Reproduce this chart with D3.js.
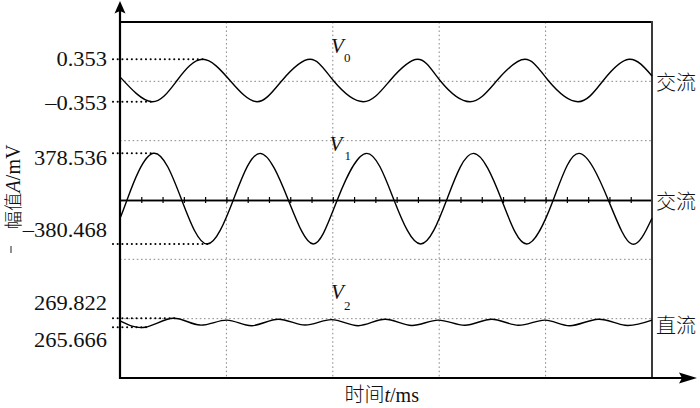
<!DOCTYPE html>
<html><head><meta charset="utf-8">
<script src="https://cdn.jsdelivr.net/npm/d3@7/dist/d3.min.js"></script>
<style>
body{margin:0;background:#fff}
svg{display:block}
.num{font-family:"Liberation Serif","Times New Roman",serif;font-size:21px;fill:#111}
.cjk{font-family:"Noto Sans CJK SC",sans-serif;font-size:20px;fill:#111}
</style></head><body>
<svg id="c" width="700" height="408"></svg>
<script>
// ---- data (time in ms, amplitude in mV) ----
const v0Time  = [0,2.98,5.36,7.77,10.34,12.88,15.23,17.86,20.05,22.87,25.38,27.98,30.08,32.89,35.43,38.06,40.25,43.05,45.42,47.84,50];
const v0Value = [0.06,-0.353,0,0.353,0,-0.353,0,0.353,0,-0.353,0,0.353,0,-0.353,0,0.353,0,-0.353,0,0.353,0.075];

const v1Time  = [0,0.66,3.13,5.80,8.20,10.65,13.16,15.82,18.17,20.42,23.19,25.75,28.26,30.70,33.21,35.87,38.22,40.72,43.14,45.89,48.09,50];
const v1Value = [-165,-12,378.536,-12,-380.468,-12,378,-12,-380,-12,378,-12,-380,-12,378,-12,-380,-12,378,-12,-380,-165];

const v2Time  = [0,2.35,5.01,7.52,10.03,12.38,14.88,17.39,19.90,22.40,24.91,27.41,29.92,32.43,34.94,37.44,39.94,42.29,44.95,47.46,50];
const v2Value = [268.6,265.666,269.822,266.7,269.0,266.4,269.4,266.7,269.2,266.4,269.4,266.5,269.0,266.6,269.4,266.6,269.0,266.4,269.4,266.6,269.0];

const markLabelsV0 = ["0.353","–0.353"];
const markLabelsV1 = ["378.536","–380.468"];
const markLabelsV2 = ["269.822","265.666"];
const seriesNames = ["0","1","2"];
const typeLabels = ["交流","交流","直流"];
const yTitleCJK = "幅值", yTitleVar = "A", yTitleUnit = "/mV";
const xTitleCJK = "时间", xTitleVar = "t", xTitleUnit = "/ms";

// ---- layout ----
const svg = d3.select("#c");
const L = 120, R = 652, T = 22, B = 378;
const x = d3.scaleLinear().domain([0, 50]).range([L, R]);
const row = d3.scaleLinear().domain([0, 6]).range([B, T]);
const yV0 = d3.scaleLinear().domain([-0.353, 0.353]).range([101.7, 59.3]);
const yV1 = d3.scaleLinear().domain([-380.468, 378.536]).range([244, 153.3]);
const yV2 = d3.scaleLinear().domain([265.666, 269.822]).range([327.3, 318.3]);

// grid
const g = svg.append("g");
g.selectAll("line.vg").data([10,20,30,40]).join("line")
  .attr("x1", d => x(d)).attr("x2", d => x(d)).attr("y1", T).attr("y2", B)
  .attr("stroke", "#8a8a8a").attr("stroke-width", 1).attr("stroke-dasharray", "1.6,2.6");
g.selectAll("line.hg").data([1,2,4,5]).join("line")
  .attr("x1", L).attr("x2", R).attr("y1", d => row(d)).attr("y2", d => row(d))
  .attr("stroke", "#8a8a8a").attr("stroke-width", 1).attr("stroke-dasharray", "1.6,2.6");

// center axis with ticks (V1 zero line)
const ticks = d3.range(2, 50, 2);
const ca1 = svg.append("g").attr("transform", `translate(0,${row(3)})`)
  .call(d3.axisBottom(x).tickValues(ticks).tickSize(3).tickSizeOuter(0).tickFormat(""));
const ca2 = svg.append("g").attr("transform", `translate(0,${row(3)})`)
  .call(d3.axisTop(x).tickValues(ticks).tickSize(3).tickSizeOuter(0).tickFormat(""));
[ca1, ca2].forEach(a => {
  a.select(".domain").attr("stroke", "#000").attr("stroke-width", 1.6);
  a.selectAll(".tick line").attr("stroke", "#000").attr("stroke-width", 1.2);
});

// frame
svg.append("line").attr("x1", L).attr("x2", R).attr("y1", T).attr("y2", T)
  .attr("stroke", "#000").attr("stroke-width", 1.8);
svg.append("line").attr("x1", R).attr("x2", R).attr("y1", T - 0.9).attr("y2", B)
  .attr("stroke", "#3a3a3a").attr("stroke-width", 2);
// axes with arrows
svg.append("line").attr("x1", L).attr("x2", L).attr("y1", B + 1).attr("y2", 10)
  .attr("stroke", "#000").attr("stroke-width", 2.2);
svg.append("path").attr("d", `M${L},1 L${L-5.5},13.5 L${L},11 L${L+5.5},13.5 Z`).attr("fill", "#000");
svg.append("line").attr("x1", L - 1).attr("x2", 686).attr("y1", B).attr("y2", B)
  .attr("stroke", "#000").attr("stroke-width", 2.2);
svg.append("path").attr("d", `M697,${B} L679,${B-5.5} L682,${B} L679,${B+5.5} Z`).attr("fill", "#000");

// series
const series = [
  {t: v0Time, v: v0Value, y: yV0, labels: markLabelsV0, labDy: [-0.6, 1.3]},
  {t: v1Time, v: v1Value, y: yV1, labels: markLabelsV1, labDy: [4.7, -14]},
  {t: v2Time, v: v2Value, y: yV2, labels: markLabelsV2, labDy: [-15, 13]}
];
series.forEach((s, i) => {
  const pts = s.t.map((t, k) => [t, s.v[k]]);
  const line = d3.line().x(d => x(d[0])).y(d => s.y(d[1])).curve(d3.curveNatural);
  svg.append("path").attr("d", line(pts)).attr("fill", "none")
    .attr("stroke", "#000").attr("stroke-width", 1.4);
  const vmax = d3.max(s.v), vmin = d3.min(s.v);
  const iMax = s.v.indexOf(vmax), iMin = s.v.indexOf(vmin);
  [[vmax, iMax], [vmin, iMin]].forEach(([val, idx], j) => {
    const yy = s.y(val);
    svg.append("line").attr("x1", 113).attr("x2", x(s.t[idx]) + 2)
      .attr("y1", yy).attr("y2", yy)
      .attr("stroke", "#000").attr("stroke-width", 2.1)
      .attr("stroke-linecap", "round").attr("stroke-dasharray", "0.01,4.7");
    const tx = svg.append("text").attr("class", "num")
      .attr("x", 107).attr("y", yy + s.labDy[j] + 7.1)
      .attr("text-anchor", "end").text(s.labels[j]);
    const w = tx.node().getComputedTextLength();
    tx.attr("textLength", w * 1.07).attr("lengthAdjust", "spacingAndGlyphs");
  });
});

// series names V0 V1 V2
const vPos = [[331, 53, 344, 61.5], [329.5, 150.7, 344.5, 160], [331, 299.3, 344, 310]];
vPos.forEach((p, i) => {
  svg.append("text").attr("class", "num").attr("x", p[0]).attr("y", p[1])
    .style("font-style", "italic").style("font-size", "21px").text("V");
  svg.append("text").attr("class", "num").attr("x", p[2]).attr("y", p[3])
    .style("font-size", "13px").text(seriesNames[i]);
});

// type labels on the right
const typeY = [row(5), row(3), 324.5];
typeLabels.forEach((t, i) => {
  svg.append("text").attr("class", "cjk").attr("x", 656).attr("y", typeY[i])
    .attr("dominant-baseline", "central").style("font-weight", 300).text(t);
});

// y title (rotated, alphabetic baseline for all parts)
const yt = svg.append("text").attr("transform", "translate(19.5,187) rotate(-90)")
  .attr("text-anchor", "middle");
yt.append("tspan").attr("class", "cjk").style("font-weight", 300).style("font-size", "18.5px").text(yTitleCJK);
yt.append("tspan").attr("class", "num").style("font-style", "italic").style("font-size", "20px").text(yTitleVar);
yt.append("tspan").attr("class", "num").style("font-size", "20px").text(yTitleUnit);
svg.append("line").attr("x1", 11).attr("x2", 11).attr("y1", 246).attr("y2", 253)
  .attr("stroke", "#222").attr("stroke-width", 1);

// x title
const xt = svg.append("text").attr("x", 381.7).attr("y", 401.5)
  .attr("text-anchor", "middle");
xt.append("tspan").attr("class", "cjk").style("font-weight", 300).text(xTitleCJK);
xt.append("tspan").attr("class", "num").style("font-style", "italic").style("font-size", "20px").text(xTitleVar);
xt.append("tspan").attr("class", "num").style("font-size", "20px").text(xTitleUnit);
</script>
</body></html>
